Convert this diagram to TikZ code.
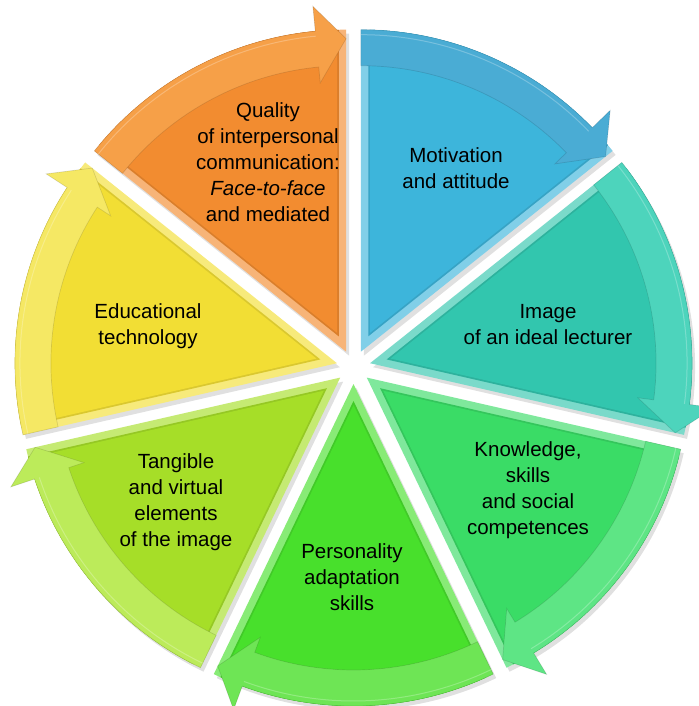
\documentclass[tikz,border=0pt]{standalone}
\usepackage{fontspec}
\setmainfont{Liberation Sans}
\usetikzlibrary{calc}
\definecolor{orB}{RGB}{242,140,48}\definecolor{orA}{RGB}{246,160,72}
\definecolor{blB}{RGB}{61,181,219}\definecolor{blA}{RGB}{74,172,212}
\definecolor{teB}{RGB}{50,198,174}\definecolor{teA}{RGB}{77,212,188}
\definecolor{grB}{RGB}{58,220,102}\definecolor{grA}{RGB}{94,229,133}
\definecolor{ggB}{RGB}{72,224,44}\definecolor{ggA}{RGB}{110,229,85}
\definecolor{liB}{RGB}{166,222,40}\definecolor{liA}{RGB}{188,235,90}
\definecolor{yeB}{RGB}{242,222,52}\definecolor{yeA}{RGB}{245,232,100}
\tikzset{lbl/.style={align=center,inner sep=0pt,font=\fontsize{20.5}{26}\selectfont}}
\newcommand\mysector[4]{%
  \pgfmathsetmacro\mm{(#1+#2)/2}%
  \pgfmathsetmacro\bd{#2+5.5}%
  \begin{scope}[shift={($(C)+(\mm:17pt)+(3pt,-4pt)$)}]
    \fill[black,opacity=0.12] (0,0) -- (#1:322pt) arc[start angle=#1,end angle=#2,radius=322pt] -- cycle;
  \end{scope}
  \begin{scope}[shift={($(C)+(\mm:17pt)$)}]
    \fill[#3!65!white] (0,0) -- (#1:322pt) arc[start angle=#1,end angle=#2,radius=322pt] -- cycle;
    \begin{scope}
      \clip (0,0) -- (#1:322pt) arc[start angle=#1,end angle=#2,radius=322pt] -- cycle;
      \fill[#3!90!black] ($(\mm:17pt)$) -- ++(#1:420pt) -- ($(\mm:17pt)+(#2:420pt)$) -- cycle;
      \fill[#3] ($(\mm:21pt)$) -- ++(#1:420pt) -- ($(\mm:21pt)+(#2:420pt)$) -- cycle;
    \end{scope}
    \fill[#4] (#1:322pt) arc[start angle=#1,end angle=\bd,radius=322pt] -- (\bd:347pt) -- (#2:313pt) -- (\bd:270pt) -- (\bd:286pt) arc[start angle=\bd,end angle=#1,radius=286pt] -- cycle;
    \draw[black,opacity=0.12,line width=0.7pt] (#1:322pt) arc[start angle=#1,end angle=\bd,radius=322pt] -- (\bd:347pt) -- (#2:313pt) -- (\bd:270pt) -- (\bd:286pt) arc[start angle=\bd,end angle=#1,radius=286pt] -- cycle;
    \draw[white,opacity=0.25,line width=1pt] (#1:317pt) arc[start angle=#1,end angle=\bd,radius=317pt];
  \end{scope}}
\begin{document}
\begin{tikzpicture}[x=1pt,y=1pt]
\useasboundingbox[fill=white] (0,0) rectangle (698,-706);
\coordinate (C) at (353.5,-367);
\mysector{141.4286}{90}{orB}{orA}
\mysector{90}{38.5714}{blB}{blA}
\mysector{38.5714}{-12.8571}{teB}{teA}
\mysector{-12.8571}{-64.2857}{grB}{grA}
\mysector{-64.2857}{-115.7143}{ggB}{ggA}
\mysector{-115.7143}{-167.1429}{liB}{liA}
\mysector{-167.1429}{-218.5714}{yeB}{yeA}
\node[lbl] (t1) at (268,-162) {Quality\\of interpersonal\\communication:\\\textit{Face-to-face}\\and mediated};
\node[lbl] (t2) at (456,-168) {Motivation\\and attitude};
\node[lbl] (t3) at (548,-325) {Image\\of an ideal lecturer};
\node[lbl] (t4) at (528,-490) {Knowledge,\\skills\\and social\\competences};
\node[lbl] (t5) at (352,-577) {Personality\\adaptation\\skills};
\node[lbl] (t6) at (176,-502) {Tangible\\and virtual\\elements\\of the image};
\node[lbl] (t7) at (148,-326) {Educational\\technology};
\end{tikzpicture}
\end{document}
